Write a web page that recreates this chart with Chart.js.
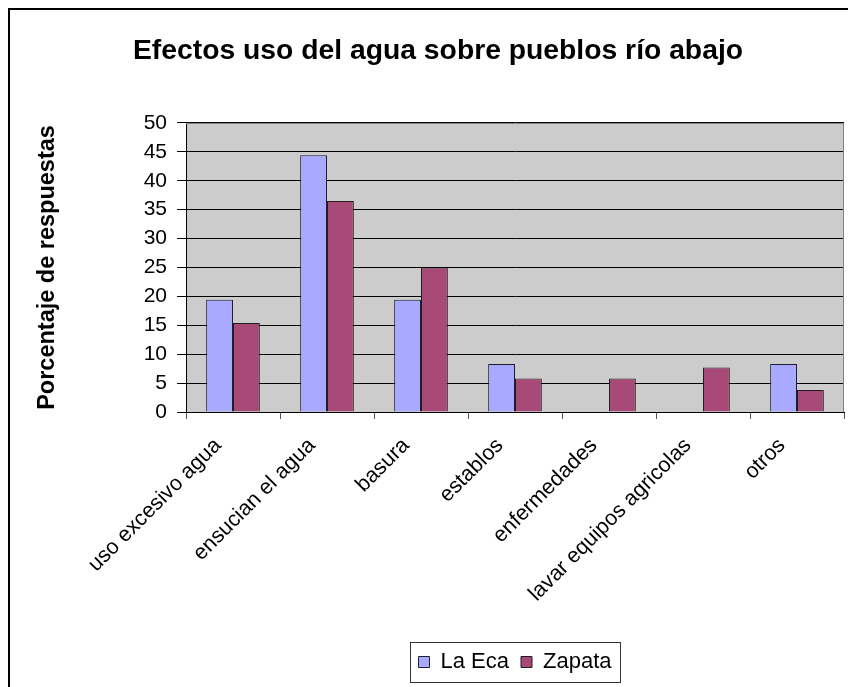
<!DOCTYPE html>
<html>
<head>
<meta charset="utf-8">
<script src="https://cdn.jsdelivr.net/npm/chart.js@4/dist/chart.umd.min.js"></script>
<style>
  html, body { margin: 0; padding: 0; background: #fff; }
  #wrap { position: relative; width: 848px; height: 687px; overflow: hidden; }
  #frame { position: absolute; left: 8px; top: 8px; width: 900px; height: 720px;
           border-left: 2px solid #000; border-top: 2px solid #000; box-sizing: border-box; }
  canvas { position: absolute; left: 0; top: 0; }
</style>
</head>
<body>
<div id="wrap">
  <div id="frame"></div>
  <canvas id="c" width="848" height="687"></canvas>
</div>
<script>
const categories = ['uso excesivo agua', 'ensucian el agua', 'basura', 'establos',
                    'enfermedades', 'lavar equipos agricolas', 'otros'];
const laEca  = [19.4, 44.4, 19.4, 8.3, 0, 0, 8.3];
const zapata = [15.4, 36.5, 25.0, 5.8, 5.8, 7.7, 3.8];
const yTicks = [0, 5, 10, 15, 20, 25, 30, 35, 40, 45, 50];

const FONT = "'Liberation Sans', Arial, sans-serif";

// Grey plot background plus the grey top/right edge of the plot area
const plotFrame = {
  id: 'plotFrame',
  beforeDraw(chart) {
    const { ctx, chartArea: a } = chart;
    ctx.save();
    ctx.fillStyle = '#cccccc';
    ctx.fillRect(a.left, a.top, a.right - a.left, a.bottom - a.top);
    ctx.restore();
  },
  afterDatasetsDraw(chart) {
    const { ctx, chartArea: a } = chart;
    ctx.save();
    ctx.strokeStyle = '#808080';
    ctx.lineWidth = 1;
    ctx.beginPath();
    ctx.moveTo(a.left, a.top + 0.5);
    ctx.lineTo(a.right - 0.5, a.top + 0.5);
    ctx.lineTo(a.right - 0.5, a.bottom);
    ctx.stroke();
    ctx.restore();
  }
};

// Title sits centred inside the framed area, a little right of the canvas centre
const titleShift = {
  id: 'titleShift',
  afterLayout(chart) {
    const tb = chart.titleBlock;
    if (tb) { tb.left += 16; tb.right += 16; }
  }
};

// Box drawn around the legend entries
const legendBox = {
  id: 'legendBox',
  afterDraw(chart) {
    const lg = chart.legend;
    if (!lg || !lg.legendHitBoxes || !lg.legendHitBoxes.length) return;
    const hb = lg.legendHitBoxes;
    const l = Math.min(...hb.map(h => h.left));
    const r = Math.max(...hb.map(h => h.left + h.width));
    const t = Math.min(...hb.map(h => h.top));
    const b = Math.max(...hb.map(h => h.top + h.height));
    const ctx = chart.ctx;
    ctx.save();
    ctx.strokeStyle = '#333';
    ctx.lineWidth = 1;
    ctx.strokeRect(Math.round(l - 9) + 0.5, Math.round(t - 9) + 0.5,
                   Math.round(r - l + 17), Math.round(b - t + 18));
    ctx.restore();
  }
};

new Chart(document.getElementById('c'), {
  type: 'bar',
  data: {
    labels: categories,
    datasets: [
      { label: 'La Eca', data: laEca, backgroundColor: '#a9a9ff',
        borderColor: '#1e1e2e', borderWidth: 1, borderSkipped: 'start' },
      { label: 'Zapata', data: zapata, backgroundColor: '#a84a78',
        borderColor: '#1e1e1e', borderWidth: 1, borderSkipped: 'start' }
    ]
  },
  options: {
    responsive: false,
    animation: false,
    devicePixelRatio: 1,
    datasets: { bar: { categoryPercentage: 0.571, barPercentage: 1.0 } },
    layout: { padding: { left: 0, right: 4, top: 0, bottom: 4 } },
    plugins: {
      title: {
        display: true,
        text: 'Efectos uso del agua sobre pueblos río abajo',
        color: '#000',
        font: { family: FONT, size: 28.3, weight: 'bold' },
        padding: { top: 34, bottom: 55 }
      },
      legend: {
        display: true,
        position: 'bottom',
        fullSize: false,
        labels: {
          color: '#000',
          font: { family: FONT, size: 22 },
          boxWidth: 11, boxHeight: 11, padding: 12
        }
      },
      tooltip: { enabled: false }
    },
    scales: {
      x: {
        grid: { display: true, drawOnChartArea: false, drawTicks: true,
                tickLength: 7, tickColor: '#555', offset: true },
        border: { display: true, color: '#000', width: 1 },
        ticks: { color: '#000', font: { family: FONT, size: 21.5 },
                 minRotation: 45, maxRotation: 45, autoSkip: false,
                 padding: 14, labelOffset: -15 },
        afterFit(scale) { scale.height = 227; }
      },
      y: {
        min: 0, max: 50,
        afterBuildTicks(scale) { scale.ticks = yTicks.map(v => ({ value: v })); },
        grid: { color: '#000', lineWidth: 1, tickLength: 9, tickColor: '#000' },
        border: { display: true, color: '#000', width: 1 },
        ticks: { color: '#000', font: { family: FONT, size: 21 }, padding: 10 },
        title: {
          display: true, text: 'Porcentaje de respuestas', color: '#000',
          font: { family: FONT, size: 23.5, weight: 'bold' },
          padding: { top: 33, bottom: 0 }
        },
        afterFit(scale) { scale.width = 186; }
      }
    }
  },
  plugins: [plotFrame, titleShift, legendBox]
});
</script>
</body>
</html>
